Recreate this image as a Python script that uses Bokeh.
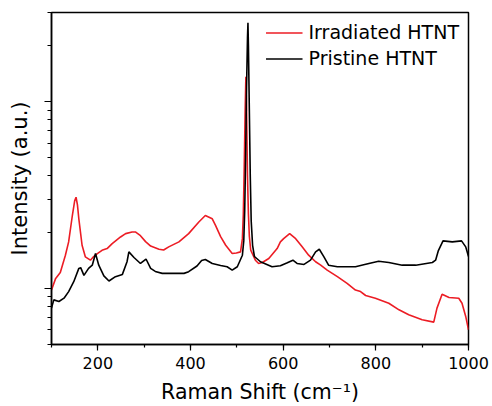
from bokeh.plotting import figure
from bokeh.models import SingleIntervalTicker, FixedTicker, CustomJSTickFormatter, Legend, LegendItem
from bokeh.embed import file_html
from bokeh.resources import INLINE

# Irradiated HTNT (red)
shift_irr = [100, 109, 119, 130, 137, 145, 150, 153, 156, 159,
             166, 173, 184, 191, 199, 209, 220, 231, 249, 260,
             274, 281, 292, 303, 314, 332, 342, 353, 375, 396,
             418, 432, 447, 454, 465, 476, 490, 499, 508, 512,
             514, 516, 518, 519.5, 521, 523, 525, 527, 530, 540,
             547, 555, 569, 587, 594, 601, 614, 627, 641, 655,
             670, 681, 695, 717, 738, 756, 767, 778, 799, 828,
             850, 871, 900, 925, 932, 943, 958, 979, 986, 994,
             1000]
int_irr = [979, 1130, 1216, 1504, 1772, 2454, 2938, 3074, 2800, 2356,
           1700, 1474, 1414, 1480, 1535, 1598, 1632, 1735, 1883, 1962,
           2003, 2003, 1914, 1778, 1683, 1618, 1603, 1667, 1772, 1962,
           2264, 2454, 2356, 2172, 1891, 1700, 1535, 1545, 1567, 1845,
           2500, 4500, 9000, 13600, 9000, 4000, 2500, 1900, 1600, 1414,
           1358, 1375, 1444, 1632, 1772, 1845, 1962, 1845, 1667, 1504,
           1387, 1330, 1251, 1154, 1063, 979, 960, 915, 885, 832,
           767, 721, 678, 659, 783, 929, 892, 885, 832, 707,
           600]

# Pristine HTNT (black)
shift_pri = [100, 105, 116, 127, 137, 148, 159, 163, 170, 180,
             188, 195, 202, 213, 224, 238, 253, 263, 267, 278,
             292, 304, 314, 324, 339, 368, 386, 396, 414, 424,
             432, 447, 465, 479, 490, 501, 507, 512, 515, 517,
             519, 521, 523, 524, 525, 527, 529, 531, 534, 538,
             551, 576, 594, 609, 621, 630, 645, 659, 670, 678,
             688, 698, 717, 756, 785, 806, 828, 857, 886, 922,
             929, 935, 945, 965, 985, 994, 1000]
int_pri = [783, 867, 850, 885, 960, 1085, 1278, 1290, 1172, 1278,
           1330, 1535, 1330, 1166, 1094, 1154, 1187, 1387, 1567, 1462,
           1358, 1435, 1278, 1231, 1202, 1202, 1202, 1227, 1317, 1409,
           1427, 1358, 1325, 1304, 1251, 1304, 1409, 1504, 1800, 2600,
           5000, 12000, 22000, 26400, 20000, 9000, 4000, 2300, 1700, 1480,
           1387, 1304, 1320, 1370, 1414, 1358, 1342, 1414, 1567, 1618,
           1474, 1330, 1304, 1304, 1358, 1397, 1375, 1330, 1330, 1375,
           1414, 1592, 1794, 1772, 1794, 1667, 1480]

labels = ["Irradiated HTNT", "Pristine HTNT"]
colors = ["#ec1c24", "#000000"]
x_limits = (100, 1000)
y_limits = (500, 30000)
y_major = [1000, 10000]
y_minor = [m * 10 ** k for k in (2, 3, 4) for m in range(2, 10)
           if y_limits[0] <= m * 10 ** k <= y_limits[1]]

FONT = "DejaVu Sans"

p = figure(width=492, height=406, x_range=x_limits, y_range=y_limits,
           y_axis_type="log", output_backend="svg", toolbar_location=None,
           min_border_left=51, min_border_right=24, min_border_top=12,
           min_border_bottom=59)

r_irr = p.line(shift_irr, int_irr, line_color=colors[0], line_width=1.6)
r_pri = p.line(shift_pri, int_pri, line_color=colors[1], line_width=1.6)

p.xgrid.visible = False
p.ygrid.visible = False
p.outline_line_color = "black"
p.outline_line_width = 1.5
p.outline_line_alpha = 1.0

p.xaxis.ticker = SingleIntervalTicker(interval=200, num_minor_ticks=2)
p.yaxis.ticker = FixedTicker(ticks=y_major, minor_ticks=y_minor)
p.yaxis.formatter = CustomJSTickFormatter(code="return ''")

for ax in (p.xaxis[0], p.yaxis[0]):
    ax.axis_line_color = "black"
    ax.axis_line_width = 1.5
    ax.major_tick_line_color = "black"
    ax.minor_tick_line_color = "black"
    ax.major_tick_line_width = 1.2
    ax.minor_tick_line_width = 1.2
    ax.major_tick_in = 0
    ax.minor_tick_in = 0
    ax.axis_label_text_font = FONT
    ax.axis_label_text_font_style = "normal"
    ax.axis_label_text_color = "black"
    ax.major_label_text_font = FONT
    ax.major_label_text_font_size = "16px"
    ax.major_label_text_color = "black"

p.xaxis.axis_label_text_font_size = "20.5px"
p.yaxis.axis_label_text_font_size = "21px"
p.xaxis.major_tick_out = 6
p.xaxis.minor_tick_out = 3
p.yaxis.major_tick_out = 7
p.yaxis.minor_tick_out = 4
p.xaxis.major_label_standoff = 6
p.xaxis.axis_label_standoff = 8
p.yaxis.major_label_standoff = 5
p.yaxis.axis_label_standoff = 13

p.xaxis.axis_label = "Raman Shift (cm\u207b\u00b9)"
p.yaxis.axis_label = "Intensity (a.u.)"

legend = Legend(items=[LegendItem(label=labels[0], renderers=[r_irr]),
                       LegendItem(label=labels[1], renderers=[r_pri])],
                location="top_right")
legend.margin = 0
legend.padding = 9
legend.spacing = 4
legend.border_line_alpha = 0
legend.background_fill_alpha = 0
legend.glyph_width = 37
legend.glyph_height = 21
legend.label_height = 21
legend.label_standoff = 6
legend.label_text_font = FONT
legend.label_text_font_size = "19px"
legend.label_text_color = "black"
p.add_layout(legend)

open("out.html", "w").write(file_html(p, INLINE))
